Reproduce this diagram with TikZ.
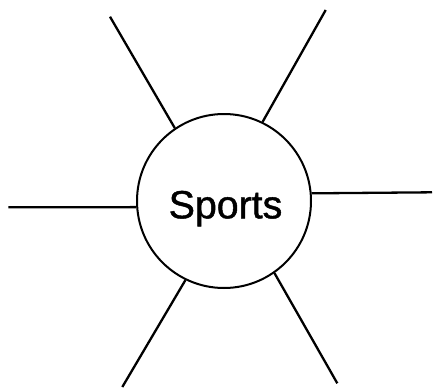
\documentclass[tikz,border=0pt]{standalone}
\usepackage{fontspec}
\setmainfont{Liberation Sans}
\newfontfamily\heavysans[FakeBold=1.2]{Liberation Sans}
\begin{document}
\begin{tikzpicture}[x=1pt,y=-1pt,
  hub/.style={draw, circle, line width=2pt, minimum size=174pt, inner sep=0pt},
  spoke/.style={line width=2.3pt},
  lbl/.style={font=\heavysans\fontsize{39.3}{39.3}\selectfont, inner sep=0pt}]
\useasboundingbox (0,0) rectangle (436,391);
\node[hub] (c) at (224,201) {};
\node[lbl, anchor=base] (t) at (225.5,218.3) {Sports};
\coordinate (ul) at (110,16.7);
\coordinate (ur) at (325.7,10);
\coordinate (l) at (8.3,207.3);
\coordinate (r) at (432,192.3);
\coordinate (ll) at (122.3,387);
\coordinate (lr) at (337.3,383.3);
\draw[spoke] (ul) -- (c.124);
\draw[spoke] (ur) -- (c.64.7);
\draw[spoke] (l) -- (c.184);
\draw[spoke] (r) -- (c.5.7);
\draw[spoke] (ll) -- (c.244);
\draw[spoke] (lr) -- (c.305.2);
\end{tikzpicture}
\end{document}
